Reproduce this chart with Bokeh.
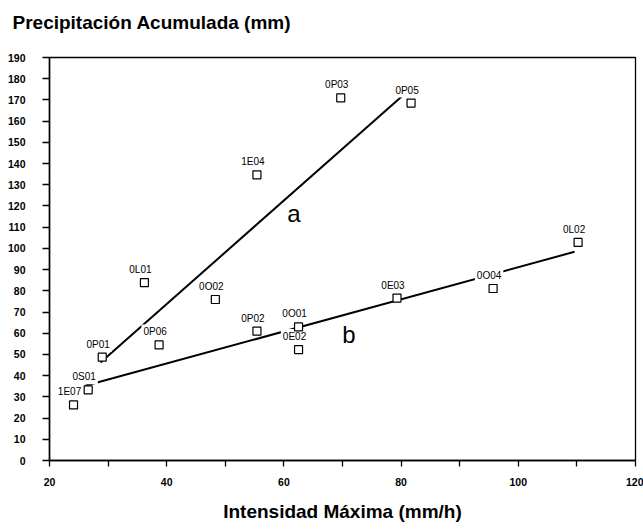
from bokeh.plotting import figure
from bokeh.models import ColumnDataSource, Range1d, FixedTicker, Title
from bokeh.core.properties import value
from bokeh.embed import file_html
from bokeh.resources import INLINE

# Data
station = ["1E07", "0S01", "0P01", "0L01", "0P06", "0O02", "0P02", "0O01",
           "0E02", "0E03", "0O04", "0L02", "1E04", "0P03", "0P05"]
intensity = [24.1, 26.6, 29.0, 36.2, 38.7, 48.3, 55.4, 62.5,
             62.5, 79.3, 95.7, 110.2, 55.4, 69.7, 81.7]
rainfall = [26.2, 33.3, 48.7, 83.9, 54.5, 75.9, 61.0, 63.0,
            52.3, 76.6, 81.1, 102.8, 134.7, 171.0, 168.5]

line_a_x = [28.7, 80.3]
line_a_y = [46.2, 172.1]
line_b_x = [26.1, 109.6]
line_b_y = [35.2, 98.4]

line_names = ["a", "b"]
line_name_x = [61.7, 71.1]
line_name_y = [116.4, 59.3]

x_ticks = list(range(20, 121, 10))
y_ticks = list(range(0, 191, 10))

FONT = "Liberation Sans"

p = figure(width=643, height=530, output_backend="svg", toolbar_location=None,
           x_range=Range1d(20, 120), y_range=Range1d(0, 190),
           min_border_left=49, min_border_right=8, min_border_top=57,
           min_border_bottom=70)
p.background_fill_color = "white"
p.border_fill_color = "white"
p.xgrid.visible = False
p.ygrid.visible = False
p.outline_line_color = "black"
p.outline_line_width = 1.3

# title: an invisible spacer next to the frame, then the real title above it
p.title.text = ""
p.title.standoff = 0
p.add_layout(Title(text=" ", text_font_size="1px", standoff=22), "above")
p.add_layout(Title(text="Precipitación Acumulada (mm)", text_font=FONT,
                   text_font_size="19px", text_font_style="bold",
                   text_color="black", align="left", offset=-37, standoff=0),
             "above")

for ax in (p.xaxis[0], p.yaxis[0]):
    ax.axis_line_color = "black"
    ax.axis_line_width = 1.5
    ax.major_tick_line_color = "black"
    ax.major_tick_line_width = 1.3
    ax.major_tick_in = 0
    ax.minor_tick_line_color = None
    ax.major_label_text_font = FONT
    ax.major_label_text_font_style = "bold"
    ax.major_label_text_font_size = "10.5px"
    ax.major_label_text_color = "black"

p.xaxis.ticker = FixedTicker(ticks=x_ticks)
p.xaxis.major_tick_out = 6
p.xaxis.major_label_standoff = 11
p.xaxis.major_label_overrides = {t: ("" if (t // 10) % 2 else str(t)) for t in x_ticks}
p.xaxis.axis_label = "Intensidad Máxima (mm/h)"
p.xaxis.axis_label_text_font = FONT
p.xaxis.axis_label_text_font_size = "19px"
p.xaxis.axis_label_text_font_style = "bold"
p.xaxis.axis_label_text_color = "black"
p.xaxis.axis_label_standoff = 12

p.yaxis.ticker = FixedTicker(ticks=y_ticks)
p.yaxis.major_tick_out = 7
p.yaxis.major_label_standoff = 17

# regression lines
p.line(line_a_x, line_a_y, line_color="black", line_width=2)
p.line(line_b_x, line_b_y, line_color="black", line_width=2)

src = ColumnDataSource(dict(x=intensity, y=rainfall, name=station))

# station labels with white boxes (they cut the lines as in the reference)
p.text(x="x", y="y", text="name", source=src, text_font=value(FONT),
       text_font_size="10px", text_color="black", text_align="center",
       text_baseline="middle", x_offset=-4, y_offset=-13,
       background_fill_color="white", padding=2)

p.scatter(x="x", y="y", source=src, marker="square", size=8,
          fill_color="white", line_color="black", line_width=1.2)

p.text(x=line_name_x, y=line_name_y, text=line_names, text_font=value(FONT),
       text_font_size="24px", text_color="black", text_align="center",
       text_baseline="alphabetic")

open("out.html", "w").write(file_html(p, INLINE))
